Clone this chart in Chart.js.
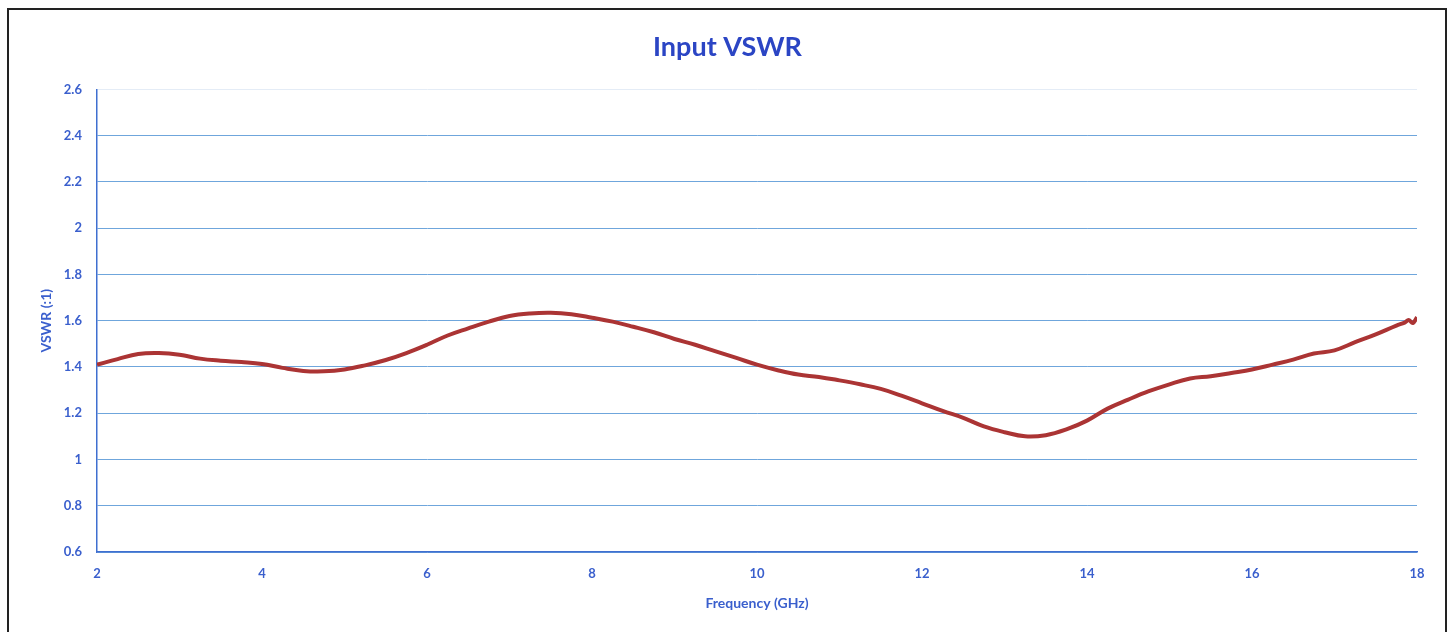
<!DOCTYPE html>
<html>
<head>
<meta charset="utf-8">
<script src="https://cdn.jsdelivr.net/npm/chart.js@4"></script>
<style>
  html, body { margin: 0; padding: 0; background: #fff; }
  #wrap { width: 1453px; height: 632px; position: relative; }
</style>
</head>
<body>
<div id="wrap"><canvas id="vswrChart" width="1453" height="632"></canvas></div>
<script>
// values
const freqGHz = [2.0, 2.25, 2.5, 2.75, 3.0, 3.25, 3.5, 3.75, 4.0, 4.25, 4.5, 4.75, 5.0, 5.25, 5.5, 5.75,
  6.0, 6.25, 6.5, 6.75, 7.0, 7.25, 7.5, 7.75, 8.0, 8.25, 8.5, 8.75, 9.0, 9.25, 9.5, 9.75,
  10.0, 10.25, 10.5, 10.75, 11.0, 11.25, 11.5, 11.75, 12.0, 12.25, 12.5, 12.75, 13.0, 13.25, 13.5, 13.75,
  14.0, 14.25, 14.5, 14.75, 15.0, 15.25, 15.5, 15.75, 16.0, 16.25, 16.5, 16.75, 17.0, 17.25, 17.5, 17.75,
  17.85, 17.9, 17.95, 18.0];
const vswr = [1.41, 1.434, 1.456, 1.46, 1.453, 1.436, 1.427, 1.421, 1.413, 1.396, 1.383, 1.381, 1.389, 1.407, 1.43, 1.46,
  1.496, 1.536, 1.567, 1.596, 1.62, 1.631, 1.634, 1.628, 1.613, 1.596, 1.574, 1.55, 1.521, 1.496, 1.467, 1.439,
  1.41, 1.386, 1.367, 1.357, 1.342, 1.325, 1.305, 1.276, 1.243, 1.21, 1.18, 1.143, 1.118, 1.10, 1.105, 1.13,
  1.168, 1.22, 1.259, 1.295, 1.325, 1.35, 1.36, 1.374, 1.389, 1.41, 1.432, 1.458, 1.472, 1.507, 1.541, 1.579,
  1.592, 1.603, 1.59, 1.615];

const xTicks = { min: 2, max: 18, step: 2 };
const yTicks = { min: 0.6, max: 2.6, step: 0.2 };

const blue = "#3a5fcd";
const points = freqGHz.map((f, i) => ({ x: f, y: vswr[i] }));

// black outer frame like the scanned page
const framePlugin = {
  id: "frame",
  afterDraw(chart) {
    const ctx = chart.ctx;
    ctx.save();
    ctx.strokeStyle = "#222";
    ctx.lineWidth = 2;
    ctx.strokeRect(8, 9, 1438, 640);
    ctx.restore();
  },
};

new Chart(document.getElementById("vswrChart").getContext("2d"), {
  type: "line",
  data: {
    datasets: [{
      label: "VSWR",
      data: points,
      borderColor: "#ab3434",
      borderWidth: 4,
      pointRadius: 0,
      tension: 0.4,
      fill: false,
    }],
  },
  options: {
    responsive: false,
    animation: false,
    layout: { padding: { left: 38, right: 36, top: 0, bottom: 10 } },
    plugins: {
      legend: { display: false },
      tooltip: { enabled: false },
      title: {
        display: true,
        text: "Input VSWR",
        color: "#2b45c4",
        font: { family: "Lato", size: 27, weight: "bold" },
        padding: { top: 31, bottom: 26 },
      },
    },
    scales: {
      x: {
        type: "linear",
        min: xTicks.min,
        max: xTicks.max,
        afterFit: (scale) => { scale.height = 70; },
        ticks: {
          stepSize: xTicks.step,
          color: blue,
          padding: 14,
          font: { family: "Lato", size: 13, weight: "bold" },
          maxRotation: 0,
        },
        grid: { display: false, drawTicks: false },
        border: { display: true, color: "#3f6fd0", width: 1.5 },
        title: {
          display: true,
          text: "Frequency (GHz)",
          color: blue,
          font: { family: "Lato", size: 14, weight: "bold" },
          padding: { top: 0, bottom: 10 },
        },
      },
      y: {
        min: yTicks.min,
        max: yTicks.max,
        afterFit: (scale) => { scale.width = 59; },
        ticks: {
          stepSize: yTicks.step,
          color: blue,
          padding: 15,
          font: { family: "Lato", size: 13, weight: "bold" },
          callback: (v) => String(Number(v.toFixed(1))),
        },
        grid: {
          drawTicks: false,
          lineWidth: 1,
          color: (ctx) => (ctx.tick && Math.abs(ctx.tick.value - yTicks.max) < 1e-6 ? "#e4ecf6" : "#6fa6dc"),
        },
        border: { display: true, color: "#3f6fd0", width: 1.5 },
        title: {
          display: true,
          text: "VSWR (:1)",
          color: blue,
          font: { family: "Lato", size: 14, weight: "bold" },
          padding: { top: 0, bottom: 0 },
        },
      },
    },
  },
  plugins: [framePlugin],
});
</script>
</body>
</html>
